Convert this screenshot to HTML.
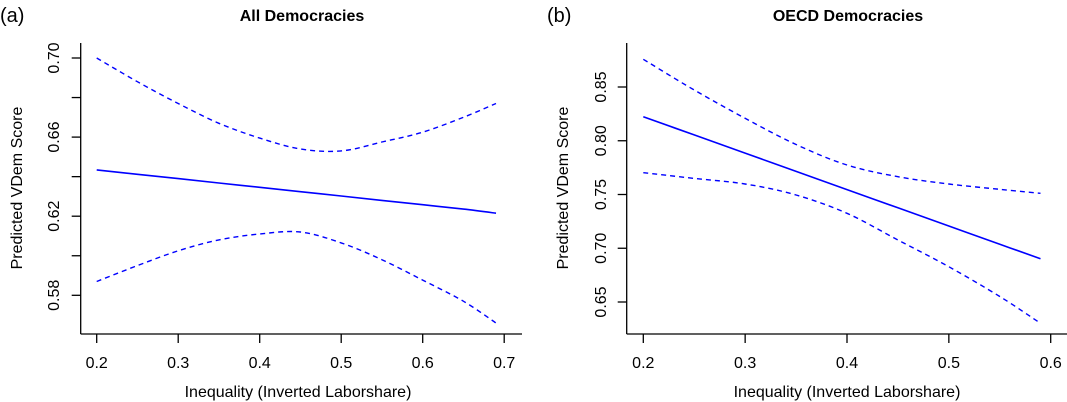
<!DOCTYPE html>
<html><head><meta charset="utf-8">
<style>
html,body{margin:0;padding:0;background:#fff;}
svg{display:block;font-family:"Liberation Sans",Arial,sans-serif;}
</style></head>
<body>
<svg id="chart" width="1067" height="402" viewBox="0 0 1067 402" xmlns="http://www.w3.org/2000/svg">
<text x="0" y="22" font-size="20">(a)</text>
<text x="302" y="21" font-size="16" font-weight="bold" text-anchor="middle">All Democracies</text>
<text x="547" y="22" font-size="20">(b)</text>
<text x="848" y="21" font-size="16" font-weight="bold" text-anchor="middle">OECD Democracies</text>
<g id="pa"></g>
<g id="pb"></g>
</svg>
<script>
// Panel A data
const aX = [0.2,0.25,0.3,0.35,0.4,0.45,0.5,0.55,0.6,0.65,0.69];
const aFit = [0.6434,0.6412,0.6390,0.6368,0.6346,0.6324,0.6302,0.6280,0.6258,0.6236,0.6215];
const aUpper = [0.700,0.688,0.677,0.667,0.6595,0.654,0.653,0.6575,0.6625,0.670,0.677];
const aLower = [0.587,0.595,0.6025,0.608,0.611,0.612,0.6065,0.598,0.5877,0.577,0.566];
const aXTicks = [0.2,0.3,0.4,0.5,0.6,0.7];
const aXTickLabels = ["0.2","0.3","0.4","0.5","0.6","0.7"];
const aYTicks = [0.58,0.60,0.62,0.64,0.66,0.68,0.70];
const aYLabelVals = [0.58,0.62,0.66,0.70];
const aYLabels = ["0.58","0.62","0.66","0.70"];
// Panel B data
const bX = [0.2,0.25,0.3,0.35,0.4,0.45,0.5,0.55,0.59];
const bFit = [0.8224,0.8054,0.7885,0.7715,0.7546,0.7376,0.7207,0.7037,0.6903];
const bUpper = [0.8758,0.8472,0.8209,0.7965,0.7774,0.7666,0.7598,0.7548,0.7511];
const bLower = [0.7703,0.765,0.7598,0.7495,0.7325,0.7077,0.6828,0.6551,0.6302];
const bXTicks = [0.2,0.3,0.4,0.5,0.6];
const bXTickLabels = ["0.2","0.3","0.4","0.5","0.6"];
const bYTicks = [0.65,0.70,0.75,0.80,0.85];
const bYLabels = ["0.65","0.70","0.75","0.80","0.85"];

const NS="http://www.w3.org/2000/svg";
function mk(parent,tag,attrs){const e=document.createElementNS(NS,tag);for(const k in attrs)e.setAttribute(k,attrs[k]);parent.appendChild(e);return e;}
function smooth(P){
  let d='M'+P[0][0].toFixed(1)+','+P[0][1].toFixed(1);
  for(let i=0;i<P.length-1;i++){
    const p0=P[Math.max(0,i-1)],p1=P[i],p2=P[i+1],p3=P[Math.min(P.length-1,i+2)];
    const c1=[p1[0]+(p2[0]-p0[0])/6,p1[1]+(p2[1]-p0[1])/6];
    const c2=[p2[0]-(p3[0]-p1[0])/6,p2[1]-(p3[1]-p1[1])/6];
    d+=' C'+c1.map(v=>v.toFixed(1)).join(',')+' '+c2.map(v=>v.toFixed(1)).join(',')+' '+p2.map(v=>v.toFixed(1)).join(',');
  }
  return d;
}
function panel(g,cfg){
  const sx=v=>cfg.x0+(v-cfg.xv0)*cfg.xs;
  const sy=v=>cfg.y0+(cfg.yv0-v)*cfg.ys;
  let e=mk(g,'line',{x1:cfg.axL,y1:cfg.axY,x2:cfg.axR,y2:cfg.axY,stroke:'#000','stroke-width':1.3});
  
  
  e=mk(g,'line',{x1:cfg.axL,y1:cfg.axT,x2:cfg.axL,y2:cfg.axY,stroke:'#000','stroke-width':1.3});
  
  
  cfg.xt.forEach((v,i)=>{
    const x=sx(v);
    let t=mk(g,'line',{x1:x,y1:cfg.axY,x2:x,y2:cfg.axY+9,stroke:'#000','stroke-width':1.3});
    
    
    let l=mk(g,'text',{x:x,y:cfg.axY+34,'font-size':16,'text-anchor':'middle'});
    l.textContent=cfg.xl[i];
    
    
  });
  cfg.yt.forEach(v=>{
    const y=sy(v);
    let t=mk(g,'line',{x1:cfg.axL-9,y1:y,x2:cfg.axL,y2:y,stroke:'#000','stroke-width':1.3});
    
    
  });
  cfg.ylv.forEach((v,i)=>{
    const y=sy(v);
    let l=mk(g,'text',{x:0,y:0,'font-size':16,'text-anchor':'middle',transform:`translate(${cfg.ylx},${y}) rotate(-90)`});
    l.textContent=cfg.yl[i];
    
    
  });
  let xt=mk(g,'text',{x:cfg.xtx,y:397,'font-size':16,'text-anchor':'middle'});
  xt.textContent='Inequality (Inverted Laborshare)';
  
  
  let yt=mk(g,'text',{x:0,y:0,'font-size':16,'text-anchor':'middle',transform:`translate(${cfg.ytx},188) rotate(-90)`});
  yt.textContent='Predicted VDem Score';
  
  
  const pts=arr=>cfg.xs_.map((v,i)=>[sx(v),sy(arr[i])]);
  let p=mk(g,'path',{d:smooth(pts(cfg.fit)),fill:'none',stroke:'#0000ff','stroke-width':1.6});
  
  
  p=mk(g,'path',{d:smooth(pts(cfg.up)),fill:'none',stroke:'#0000ff','stroke-width':1.4,'stroke-dasharray':'5,4'});
  
  
  p=mk(g,'path',{d:smooth(pts(cfg.lo)),fill:'none',stroke:'#0000ff','stroke-width':1.4,'stroke-dasharray':'5,4'});
  
  
}
panel(document.getElementById('pa'),{x0:96.7,xv0:0.2,xs:815,y0:58,yv0:0.70,ys:1977.5,
  axL:80.7,axR:522,axT:43,axY:334,xt:aXTicks,xl:aXTickLabels,yt:aYTicks,ylv:aYLabelVals,yl:aYLabels,
  ylx:59,ytx:22,xtx:298,xs_:aX,fit:aFit,up:aUpper,lo:aLower});
panel(document.getElementById('pb'),{x0:643.3,xv0:0.2,xs:1018.5,y0:87,yv0:0.85,ys:1075,
  axL:626.7,axR:1067,axT:43,axY:334,xt:bXTicks,xl:bXTickLabels,yt:bYTicks,ylv:bYTicks,yl:bYLabels,
  ylx:606,ytx:568,xtx:847,xs_:bX,fit:bFit,up:bUpper,lo:bLower});
</script>
</body></html>
